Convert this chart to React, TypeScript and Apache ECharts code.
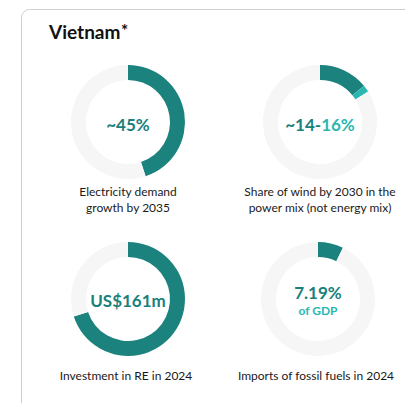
import React, { useEffect, useRef } from "react";
import * as echarts from "echarts";

const titleText = "Vietnam";
const donutValues: number[][] = [
  [45, 55],
  [14, 2, 84],
  [70, 30],
  [7.19, 92.81],
];
const donutColors: string[][] = [
  ["#1b827e", "#f6f6f6"],
  ["#1b827e", "#2bb7b1", "#f6f6f6"],
  ["#1b827e", "#f6f6f6"],
  ["#1b827e", "#f6f6f6"],
];
const captions: string[] = [
  "Electricity demand\ngrowth by 2035",
  "Share of wind by 2030 in the\npower mix (not energy mix)",
  "Investment in RE in 2024",
  "Imports of fossil fuels in 2024",
];
const centers: [number, number][] = [
  [128, 122],
  [320, 122],
  [128, 299],
  [318, 299],
];

const FONT = "Lato, 'Noto Sans', sans-serif";
const DARK = "#1b7f7b";
const LIGHT = "#2bb7b1";

export default function App() {
  const ref = useRef<HTMLDivElement>(null);
  useEffect(() => {
    if (!ref.current) return;
    const chart = echarts.init(ref.current, undefined, { renderer: "svg" });
    const series = donutValues.map((vals, i) => ({
      type: "pie",
      center: centers[i],
      radius: [42, 57],
      startAngle: 90,
      clockwise: true,
      silent: true,
      label: { show: false },
      labelLine: { show: false },
      data: vals.map((v, j) => ({ value: v, itemStyle: { color: donutColors[i][j] } })),
    }));
    const graphic: any[] = [
      {
        type: "rect",
        shape: { x: 21.5, y: 9.5, width: 420, height: 430, r: 8 },
        style: { fill: "#fff", stroke: "#cfcfcf", lineWidth: 1 },
        z: -10,
      },
      {
        type: "text",
        left: 49,
        top: 22,
        style: { text: titleText, font: `bold 19px ${FONT}`, fill: "#111" },
      },
      {
        type: "text",
        left: 121,
        top: 22,
        style: { text: "*", font: `bold 17px ${FONT}`, fill: "#111" },
      },
      {
        type: "text",
        x: centers[0][0],
        y: centers[0][1] + 2,
        style: { text: "~45%", font: `bold 17px ${FONT}`, fill: DARK, align: "center", verticalAlign: "middle" },
      },
      {
        type: "text",
        x: centers[1][0],
        y: centers[1][1] + 2,
        style: {
          text: "{a|~14-}{b|16%}",
          align: "center",
          verticalAlign: "middle",
          rich: {
            a: { font: `bold 17px ${FONT}`, fill: DARK },
            b: { font: `bold 17px ${FONT}`, fill: LIGHT },
          },
        },
      },
      {
        type: "text",
        x: centers[2][0],
        y: centers[2][1] + 1,
        style: { text: "US$161m", font: `bold 17px ${FONT}`, fill: DARK, align: "center", verticalAlign: "middle" },
      },
      {
        type: "text",
        x: centers[3][0],
        y: centers[3][1] - 7,
        style: { text: "7.19%", font: `bold 17px ${FONT}`, fill: DARK, align: "center", verticalAlign: "middle" },
      },
      {
        type: "text",
        x: centers[3][0],
        y: centers[3][1] + 11,
        style: { text: "of GDP", font: `bold 12px ${FONT}`, fill: LIGHT, align: "center", verticalAlign: "middle" },
      },
    ];
    captions.forEach((c, i) => {
      graphic.push({
        type: "text",
        x: centers[i][0] - (i >= 2 ? 2 : 0),
        y: i < 2 ? 199 : 375,
        style: {
          text: c,
          font: `400 12px ${FONT}`,
          fill: "#1a1a1a",
          align: "center",
          verticalAlign: "middle",
          lineHeight: 16,
        },
      });
    });
    chart.setOption({
      animation: false,
      backgroundColor: "#ffffff",
      graphic,
      series,
    });
    return () => chart.dispose();
  }, []);
  return <div ref={ref} style={{ position: "fixed", left: 0, top: 0, width: 405, height: 403 }} />;
}
